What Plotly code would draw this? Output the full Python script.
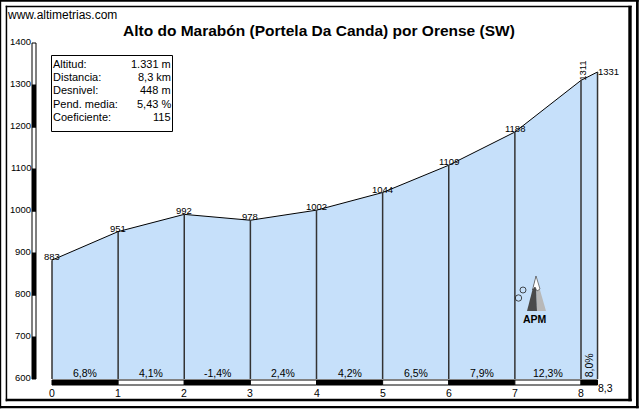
import plotly.graph_objects as go

# ---------------- data ----------------
dist_km = [0, 1, 2, 3, 4, 5, 6, 7, 8, 8.25]
elev_m = [883, 951, 992, 978, 1002, 1044, 1109, 1188, 1311, 1331]
grade_pct = [6.8, 4.1, -1.4, 2.4, 4.2, 6.5, 7.9, 12.3, 8.0]
x_tick_vals = [0, 1, 2, 3, 4, 5, 6, 7, 8]
x_tick_text = ["0", "1", "2", "3", "4", "5", "6", "7", "8"]
end_label = "8,3"
y_ticks = [600, 700, 800, 900, 1000, 1100, 1200, 1300, 1400]
title_text = "Alto do Marabón (Portela Da Canda) por Orense (SW)"
site_text = "www.altimetrias.com"
info_labels = ["Altitud:", "Distancia:", "Desnivel:", "Pend. media:", "Coeficiente:"]
info_values = ["1.331 m", "8,3 km", "448 m", "5,43 %", "115"]

# ---------------- layout constants ----------------
W, H = 640, 410
X0_PX, KM_PX = 52.0, 66.125
Y600_PX, M_PX = 379.0, 0.42
XR = [-X0_PX / KM_PX, (W - X0_PX) / KM_PX]
YR = [600 - (H - Y600_PX) / M_PX, 600 + Y600_PX / M_PX]
FONT = "Liberation Sans, Arial, sans-serif"
FILL = "#c6e0fa"


def px(x):
    return x / W


def py(y):
    return 1 - y / H


fig = go.Figure()
ymin = y_ticks[0]
fig.add_trace(go.Scatter(
    x=[dist_km[0]] + dist_km + [dist_km[-1]],
    y=[ymin] + elev_m + [ymin],
    fill="toself", fillcolor=FILL, mode="lines", line=dict(width=0),
    hoverinfo="skip", showlegend=False))
fig.add_trace(go.Scatter(
    x=dist_km, y=elev_m, mode="lines", line=dict(color="black", width=1),
    hoverinfo="skip", showlegend=False))

shapes = []
# vertical km lines
for d, e in zip(dist_km, elev_m):
    shapes.append(dict(type="line", xref="x", yref="y", x0=d, x1=d, y0=ymin, y1=e,
                       line=dict(color="#333333", width=1.5)))

# y altitude bar
for i, (lo, hi) in enumerate(zip(y_ticks[:-1], y_ticks[1:])):
    shapes.append(dict(type="rect", xref="paper", yref="y", x0=px(32), x1=px(36),
                       y0=lo, y1=hi, fillcolor="black" if i % 2 == 0 else "white",
                       line=dict(color="black", width=1)))

# bottom km bar
bounds = x_tick_vals + [dist_km[-1]]
for i, (a, b) in enumerate(zip(bounds[:-1], bounds[1:])):
    shapes.append(dict(type="rect", xref="x", yref="paper", x0=a, x1=b,
                       y0=py(385), y1=py(380), fillcolor="black" if i % 2 == 0 else "white",
                       line=dict(color="black", width=1)))

# info box
shapes.append(dict(type="rect", xref="paper", yref="paper", x0=px(51.5), x1=px(172.5),
                   y0=py(131.5), y1=py(55.5), fillcolor="white",
                   line=dict(color="black", width=1)))

# frames (filled bars)
def bar(x0, y0, x1, y1):
    shapes.append(dict(type="rect", xref="paper", yref="paper", x0=px(x0), x1=px(x1),
                       y0=py(y1), y1=py(y0), fillcolor="black", line=dict(width=0)))

bar(0, 0, 1.2, 408.3)
bar(0, 0, 638.7, 1.7)
bar(636, 0, 638.7, 408.3)
bar(0, 406, 638.7, 408.3)
bar(5.7, 5.7, 7.2, 401.3)
bar(5.7, 5.7, 631.7, 7.3)
bar(628.3, 5.7, 631.7, 401.3)
bar(5.7, 398.7, 631.7, 401.3)

# APM logo
def path(pts):
    s = "M " + " L ".join(f"{px(a):.5f},{py(b):.5f}" for a, b in pts) + " Z"
    return s

shapes.append(dict(type="path", xref="paper", yref="paper",
                   path=path([(536, 276), (527, 311), (537, 311)]),
                   fillcolor="#4a4a4a", line=dict(width=0)))
shapes.append(dict(type="path", xref="paper", yref="paper",
                   path=path([(536, 276), (537, 311), (546, 311)]),
                   fillcolor="#b8b8b8", line=dict(width=0)))
shapes.append(dict(type="path", xref="paper", yref="paper",
                   path=path([(536, 276), (532.5, 290), (535, 287), (537, 291), (540, 289)]),
                   fillcolor="white", line=dict(color="#333", width=0.6)))
for cx, cy, r in [(518.5, 298, 3.2), (523, 290, 3.0)]:
    shapes.append(dict(type="circle", xref="paper", yref="paper",
                       x0=px(cx - r), x1=px(cx + r), y0=py(cy + r), y1=py(cy - r),
                       line=dict(color="#222", width=0.8)))

ann = []


def text(x, y, t, size, xref="paper", yref="paper", xanchor="center", yanchor="middle",
         xshift=0, yshift=0, angle=0, bold=False):
    ann.append(dict(x=x, y=y, xref=xref, yref=yref, text=f"<b>{t}</b>" if bold else t,
                    showarrow=False, xanchor=xanchor, yanchor=yanchor,
                    xshift=xshift, yshift=yshift, textangle=angle,
                    font=dict(family=FONT, size=size, color="black")))


text(px(319), py(30.5), title_text, 15.5, bold=True)
text(px(7.3), py(14.5), site_text, 12, xanchor="left", xshift=-2)

# y tick labels
for v in y_ticks:
    text(px(31), v, str(v), 9.5, yref="y", xanchor="right", xshift=2, yshift=2)

# x tick labels
for v, t in zip(x_tick_vals, x_tick_text):
    text(v, py(393.3), t, 10.5, xref="x")
text(dist_km[-1], py(388.3), end_label, 10.5, xref="x", xanchor="left", xshift=-2)

# point labels
for d, e in zip(dist_km[:-2], elev_m[:-2]):
    text(d, e, str(e), 9.5, xref="x", yref="y", yshift=3.5)
text(dist_km[-2], elev_m[-2], str(elev_m[-2]), 9.5, xref="x", yref="y",
     yshift=9.6, xshift=2, angle=-90)
text(dist_km[-1], elev_m[-1], str(elev_m[-1]), 9.5, xref="x", yref="y",
     xanchor="left", xshift=-1.5, yshift=0.7)

# gradient labels
for i, g in enumerate(grade_pct):
    a, b = bounds[i], bounds[i + 1]
    lbl = f"{g:.1f}%".replace(".", ",")
    if b - a < 0.5:
        text((a + b) / 2, py(365), lbl, 10.5, xref="x", angle=-90)
    else:
        text((a + b) / 2, py(373.3), lbl, 10.5, xref="x")

# info box text
row_y = [63.5, 77.3, 90.5, 103.5, 116.7]
for yy, lab, val in zip(row_y, info_labels, info_values):
    text(px(53.3), py(yy), lab, 11, xanchor="left", xshift=-2)
    text(px(170.7), py(yy), val, 11, xanchor="right", xshift=2)

text(px(534.5), py(319), "APM", 10.5, bold=True)

fig.update_layout(
    width=W, height=H, autosize=False,
    margin=dict(l=0, r=0, t=0, b=0, pad=0),
    paper_bgcolor="white", plot_bgcolor="white",
    xaxis=dict(range=XR, visible=False, fixedrange=True),
    yaxis=dict(range=YR, visible=False, fixedrange=True),
    shapes=shapes, annotations=ann, showlegend=False, hovermode=False,
)
fig.write_html("out.html", config={"displayModeBar": False},
               post_script="document.body.style.margin='0';document.body.style.overflow='hidden';")
